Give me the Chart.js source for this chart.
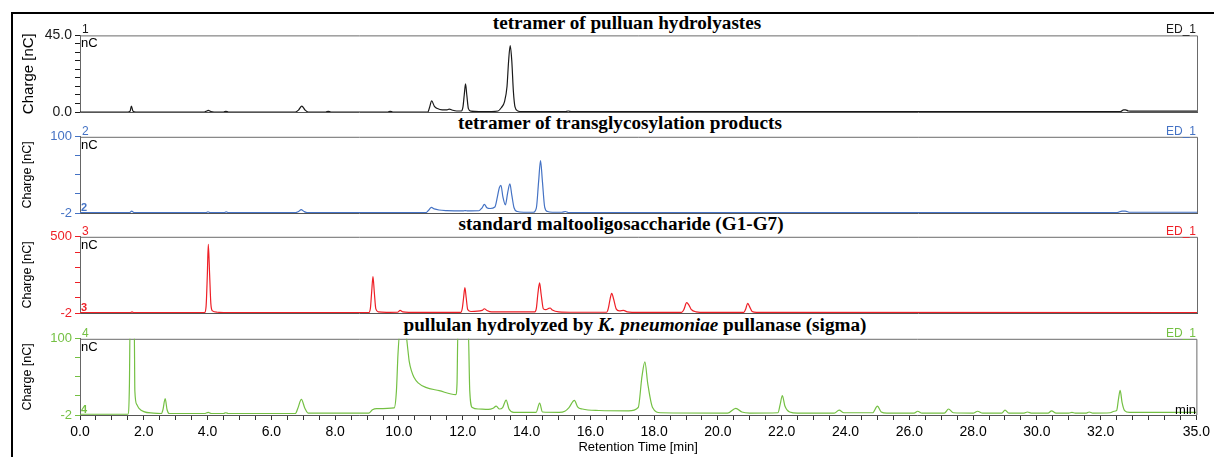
<!DOCTYPE html>
<html>
<head>
<meta charset="utf-8">
<script src="https://cdn.jsdelivr.net/npm/chart.js@4.4.0/dist/chart.umd.min.js"></script>
<style>
  html,body{margin:0;padding:0;background:#fff;}
  body{position:relative;width:1214px;height:457px;overflow:hidden;font-family:"Liberation Sans",Arial,sans-serif;}
  .frame{position:absolute;left:11px;top:12px;width:1210px;height:460px;border-left:2px solid #000;border-top:2px solid #000;box-sizing:border-box;}
  .panel{position:absolute;left:0;width:1214px;}
  .panel canvas{display:block;}
  .ttl{position:absolute;font-family:"Liberation Serif","Times New Roman",serif;font-weight:bold;font-size:19.2px;line-height:19px;white-space:nowrap;transform:translateX(-50%);color:#000;}
  .lab{position:absolute;font-size:12px;line-height:12px;white-space:nowrap;}
  .r{transform:translateX(-100%);}
</style>
</head>
<body>
<div class="frame"></div>

<div class="ttl" style="left:627px;top:13px;">tetramer of pulluan hydrolyastes</div>
<div class="ttl" style="left:620px;top:113px;">tetramer of transglycosylation products</div>
<div class="ttl" style="left:621px;top:214px;">standard maltooligosaccharide (G1-G7)</div>
<div class="ttl" style="left:635px;top:315px;">pullulan hydrolyzed by <i>K. pneumoniae</i> pullanase (sigma)</div>

<div class="panel" id="w1"><canvas id="c1"></canvas></div>
<div class="panel" id="w2"><canvas id="c2"></canvas></div>
<div class="panel" id="w3"><canvas id="c3"></canvas></div>
<div class="panel" id="w4"><canvas id="c4"></canvas></div>

<script>
// ---------------- data (retention time [min], charge [nC]) ----------------
const p1Time   = [0,1.5,1.57,1.61,1.66,1.75,3.9,3.95,4.02,4.1,4.2,4.5,4.57,4.65,6.75,6.85,6.95,7.05,7.15,7.7,7.78,7.86,9.65,9.72,9.8,10.9,10.95,11.02,11.1,11.2,11.35,11.5,11.57,11.65,11.8,11.95,12.0,12.04,12.08,12.12,12.17,12.25,12.5,12.9,13.1,13.2,13.3,13.38,13.43,13.48,13.53,13.58,13.63,13.72,13.85,15.2,15.3,15.4,32.6,32.7,32.76,32.85,33.0,35];
const p1Charge = [0,0,0.5,3.5,0.5,0,0,0.4,1,0.3,0,0,0.4,0,0,1.2,3.5,1.2,0,0,0.4,0,0,0.4,0,0,2.5,6.5,3.5,2,1.2,1.3,1.7,1.2,0.6,0.6,3,10,16.5,10,2,0.5,0.3,0.3,0.6,2.5,6,15,30,39,30,12,3,0.6,0.2,0.2,0.6,0.2,0.2,1.3,1.3,0.6,0.5,0.5];

const p2Time   = [0,1.55,1.62,1.7,3.95,4.01,4.08,4.52,4.58,4.65,6.75,6.85,6.93,7.02,7.12,10.85,10.93,11.01,11.1,11.25,11.5,12.0,12.07,12.15,12.5,12.6,12.67,12.75,12.85,13.0,13.08,13.14,13.19,13.25,13.33,13.4,13.47,13.53,13.6,13.7,13.9,14.2,14.3,14.37,14.43,14.49,14.56,14.65,14.8,15.1,15.21,15.3,32.5,32.65,32.75,32.9,35];
const p2Charge = [-1.5,-1.5,0.5,-1.5,-1.5,-0.3,-1.5,-1.5,-0.5,-1.5,-1.5,0,2.5,0,-1.5,-1.3,2,5.5,3.5,2,1.2,0.8,1.3,0.8,1,5,9.5,5,4,6,20,32,35,20,9,25,37,22,5,0,-1,-1,5,40,68,40,6,0,-1,-1,0,-1.3,-1.3,0.5,0.5,-1,-1];

const p3Time   = [0,1.58,1.63,1.68,3.9,3.95,3.99,4.02,4.06,4.1,4.15,4.3,4.6,9.05,9.1,9.14,9.18,9.22,9.27,9.35,9.6,9.95,10.03,10.12,10.3,11.93,11.98,12.02,12.06,12.1,12.15,12.25,12.6,12.67,12.75,12.9,14.25,14.3,14.35,14.4,14.45,14.52,14.6,14.68,14.73,14.8,15.0,15.5,16.5,16.55,16.61,16.66,16.72,16.8,16.9,17.03,17.15,17.5,18.85,18.92,19.01,19.08,19.15,19.3,19.6,20.8,20.86,20.92,20.98,21.06,21.2,35];
const p3Charge = [0,0,6,0,0,40,250,450,260,60,12,3,0,0,30,140,238,140,25,5,2,3,15,5,2,2,30,100,165,100,20,8,15,26,15,5,5,30,130,196,120,25,20,28,31,18,6,3,3,25,90,128,90,25,12,15,6,2,2,20,66,50,22,6,2,2,25,62,40,8,2,0];

const p4Time   = [0,1.5,1.55,1.57,1.7,1.72,1.78,1.85,2.0,2.3,2.55,2.6,2.67,2.73,2.8,3.9,4.02,4.12,4.5,4.57,4.65,6.75,6.83,6.94,7.05,7.15,9.05,9.17,9.3,9.85,9.92,9.97,10.03,10.2,10.28,10.32,10.4,10.47,10.6,10.84,11.26,11.78,11.82,11.85,12.17,12.22,12.3,12.5,12.8,12.95,13.05,13.15,13.25,13.36,13.45,13.6,14.3,14.41,14.5,15.02,15.2,15.33,15.5,15.6,15.75,16.27,17.2,17.5,17.62,17.71,17.8,17.95,18.2,20.3,20.56,20.75,21.0,21.88,21.95,22.02,22.1,22.25,22.5,23.65,23.8,23.95,24.85,25.0,25.12,25.3,26.15,26.26,26.4,27.1,27.23,27.38,28.0,28.14,28.3,28.9,29.0,29.12,29.6,29.7,29.85,30.35,30.46,30.6,31.0,31.1,31.2,31.55,31.64,31.75,32.3,32.42,32.5,32.56,32.61,32.67,32.75,32.9,35];
const p4Charge = [-1,-1,40,120,120,30,12,7,2.5,0.5,0,5,20,5,0,0,1.5,0,0,1,0,0,7,19,7,0.5,0.5,5,6.5,7.5,30,80,110,110,85,70,56,48.5,41,35,30.6,25.4,40,115,115,30,8,6,5.5,7,10,6,8,18,6,1.5,1.5,14,2,1.5,3,8,17.5,9,6,4,3.5,8,50,69,40,8,1,0.5,7,2,0.5,1,12,24,10,2,0.5,0.5,4.5,1,1,10,2,0.5,0.5,3,0.5,0.5,6,1,0.5,3,0.5,0.5,4.5,0.5,0.5,2,0.5,0.5,3.5,0.5,0.5,1.5,0.5,0.5,2,0.5,1,3,4,20,31,15,4,1.5,1.5];

// axis ticks and labels
const xLabelValues = [0,2,4,6,8,10,12,14,16,18,20,22,24,26,28,30,32,35];
const yTicks1 = [0,5,10,15,20,25,30,35,40,45];
const yTicks2 = [-2,23.5,49,74.5,100];
const yTicks3 = [-2,98.4,198.8,299.2,399.6,500];
const yTicks4 = [-2,23.5,49,74.5,100];
const yEndLabels1 = ['0.0','45.0'];
const yEndLabels2 = ['-2','100'];
const yEndLabels3 = ['-2','500'];
const yEndLabels4 = ['-2','100'];
const channelNames = ['1','2','3','4'];
const detectorName = 'ED_1';

// ---------------- styling / layout ----------------
Chart.defaults.font.family = '"Liberation Sans", Arial, sans-serif';
const colors = ['#1a1a1a','#4472c4','#ee1f26','#74c043'];
const plotTops = [34,136,236,338];
const plotHeights = [78,77,77,77];
const PAD_T = 10;

const framePlugin = {
  id:'frame',
  beforeDatasetsDraw(chart){
    const {ctx, chartArea:a} = chart;
    ctx.save();
    ctx.strokeStyle = '#6a6a6a';
    ctx.lineWidth = 1;
    ctx.beginPath();
    ctx.moveTo(a.left, a.top + 0.5);
    ctx.lineTo(a.right + 0.5, a.top + 0.5);
    ctx.lineTo(a.right + 0.5, a.bottom);
    ctx.stroke();
    ctx.restore();
  }
};

function addLabel(text, x, y, size, color, right, bold){
  const d = document.createElement('div');
  d.className = 'lab' + (right ? ' r' : '');
  d.textContent = text;
  d.style.left = x + 'px';
  d.style.top = y + 'px';
  d.style.fontSize = size + 'px';
  d.style.lineHeight = size + 'px';
  d.style.color = color;
  if (bold) d.style.fontWeight = 'bold';
  document.body.appendChild(d);
}

function makePanel(i, times, charges, yMin, yMax, yTicks, endLabels, isLast, ySize, yTitleSize){
  const padB = isLast ? (457 - (plotTops[i] + plotHeights[i])) : 12;
  const h = PAD_T + plotHeights[i] + padB;
  const wrap = document.getElementById('w' + (i+1));
  wrap.style.top = (plotTops[i] - PAD_T) + 'px';
  wrap.style.height = h + 'px';
  const cv = document.getElementById('c' + (i+1));
  cv.width = 1214; cv.height = h;
  cv.style.width = '1214px'; cv.style.height = h + 'px';
  const pts = times.map((t, k) => ({x: t, y: charges[k]}));
  const col = colors[i];
  new Chart(cv, {
    type: 'line',
    data: { datasets: [{
      data: pts, borderColor: col, borderWidth: 1.2, pointRadius: 0,
      cubicInterpolationMode: 'monotone', fill: false
    }]},
    options: {
      responsive: false, animation: false, maintainAspectRatio: false,
      layout: { padding: { top: PAD_T, left: 0, right: 17, bottom: 0 } },
      plugins: { legend: { display: false }, tooltip: { enabled: false } },
      scales: {
        x: {
          type: 'linear', min: 0, max: 35,
          ticks: {
            display: isLast, stepSize: 0.5, autoSkip: false, maxRotation: 0,
            color: '#000', font: { size: 14 }, padding: 4,
            callback: v => xLabelValues.includes(v) ? v.toFixed(1) : ''
          },
          grid: { drawOnChartArea: false, drawTicks: isLast, tickLength: 5, tickColor: '#333' },
          border: { display: true, color: '#555' },
          title: { display: isLast, text: 'Retention Time [min]', color: '#000',
                   font: { size: 13 }, padding: { top: 0, bottom: 1.5 } },
          afterFit: s => { s.height = padB; }
        },
        y: {
          min: yMin, max: yMax,
          afterBuildTicks: s => { s.ticks = yTicks.map(v => ({ value: v })); },
          ticks: {
            autoSkip: false, color: col, font: { size: ySize }, padding: 3,
            callback: (v, idx, arr) => idx === 0 ? endLabels[0] : (idx === arr.length - 1 ? endLabels[1] : '')
          },
          grid: { drawOnChartArea: false, tickLength: 5, tickColor: col },
          border: { display: true, color: '#666' },
          title: { display: true, text: 'Charge [nC]', color: '#000',
                   font: { size: yTitleSize }, padding: { top: 20, bottom: 0 } },
          afterFit: s => { s.width = 80; }
        }
      }
    },
    plugins: [framePlugin]
  });

  const top = plotTops[i], bot = plotTops[i] + plotHeights[i];
  addLabel(channelNames[i], 82, top - 11, 12, col, false, false);
  addLabel(detectorName, 1196, top - 11, 12, col, true, false);
  addLabel('nC', 81, top + 2, 13, '#000', false, false);
  if (i > 0) addLabel(channelNames[i], 81, bot - 11, 11, col, false, true);
  if (isLast) addLabel('min', 1196, bot - 12, 13, '#000', true, false);
}

makePanel(0, p1Time, p1Charge, 0, 45, yTicks1, yEndLabels1, false, 14, 15);
makePanel(1, p2Time, p2Charge, -2, 100, yTicks2, yEndLabels2, false, 13, 12.5);
makePanel(2, p3Time, p3Charge, -2, 500, yTicks3, yEndLabels3, false, 13, 12.5);
makePanel(3, p4Time, p4Charge, -2, 100, yTicks4, yEndLabels4, true, 13, 12.5);
</script>
</body>
</html>
